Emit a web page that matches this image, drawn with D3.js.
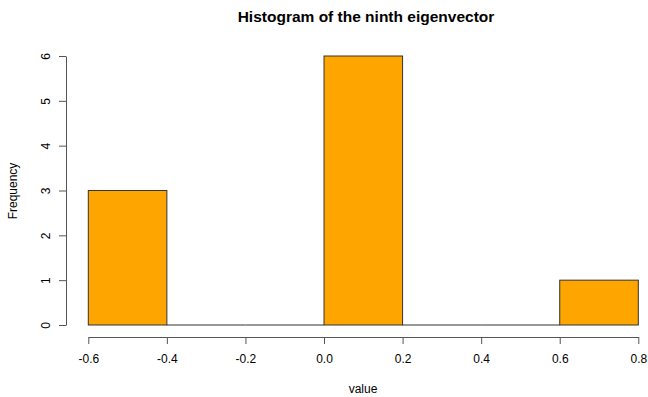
<!DOCTYPE html>
<html><head><meta charset="utf-8">
<script src="https://cdn.jsdelivr.net/npm/d3@7"></script>
<style>body{margin:0;background:#fff}svg{display:block}text{font-family:"Liberation Sans",Arial,sans-serif;fill:#000}</style>
</head><body><svg id="c" width="648" height="397"></svg>
<script>
const binStarts = [-0.6, -0.4, -0.2, 0.0, 0.2, 0.4, 0.6];
const binWidth = 0.2;
const counts = [3, 0, 0, 6, 0, 0, 1];
const xTicks = [-0.6, -0.4, -0.2, 0.0, 0.2, 0.4, 0.6, 0.8];
const yTicks = [0, 1, 2, 3, 4, 5, 6];
const title = "Histogram of the ninth eigenvector";
const xLabel = "value";
const yLabel = "Frequency";

const svg = d3.select("#c");
const x = d3.scaleLinear().domain([-0.6, 0.8]).range([88.3, 638.3]);
const y = d3.scaleLinear().domain([0, 6]).range([325, 56]);

svg.selectAll("rect.bar").data(binStarts.map((s,i)=>({s, c:counts[i]})).filter(d=>d.c>0))
  .enter().append("rect").attr("class","bar")
  .attr("x", d=>x(d.s)).attr("width", d=>x(d.s+binWidth)-x(d.s))
  .attr("y", d=>y(d.c)).attr("height", d=>y(0)-y(d.c))
  .attr("fill","#FFA500").attr("stroke","#333").attr("stroke-width",1);
svg.selectAll("line.zero").data(binStarts.map((s,i)=>({s, c:counts[i]})).filter(d=>d.c===0))
  .enter().append("line").attr("class","zero")
  .attr("x1", d=>x(d.s)).attr("x2", d=>x(d.s+binWidth))
  .attr("y1", y(0)).attr("y2", y(0)).attr("stroke","#333");

const xAxis = svg.append("g").attr("transform","translate(0,337)")
  .call(d3.axisBottom(x).tickValues(xTicks).tickFormat(d3.format(".1f")).tickSize(7).tickPadding(10).tickSizeOuter(0));
const yAxis = svg.append("g").attr("transform","translate(66,0)")
  .call(d3.axisLeft(y).tickValues(yTicks).tickFormat(d3.format("d")).tickSize(7).tickSizeOuter(0));
[xAxis, yAxis].forEach(g=>{
  g.select(".domain").attr("stroke","#555");
  g.selectAll(".tick line").attr("stroke","#555");
  g.selectAll("text").attr("font-size",12).attr("font-family","Liberation Sans, Arial, sans-serif").attr("fill","#222");
});
xAxis.selectAll(".tick text").text(d=>d3.format(".1f")(d).replace("−","-"));
yAxis.selectAll(".tick text").attr("transform","rotate(-90)").attr("x",0).attr("y",-20).attr("dy","0.35em").attr("text-anchor","middle");

svg.append("text").attr("x",366).attr("y",22).attr("text-anchor","middle")
  .attr("font-size",15.5).attr("font-weight","bold").text(title);
svg.append("text").attr("x",363).attr("y",393).attr("text-anchor","middle")
  .attr("font-size",12).attr("fill","#222").text(xLabel);
svg.append("text").attr("transform","translate(17,191) rotate(-90)").attr("text-anchor","middle")
  .attr("font-size",12).attr("fill","#222").text(yLabel);
</script></body></html>
